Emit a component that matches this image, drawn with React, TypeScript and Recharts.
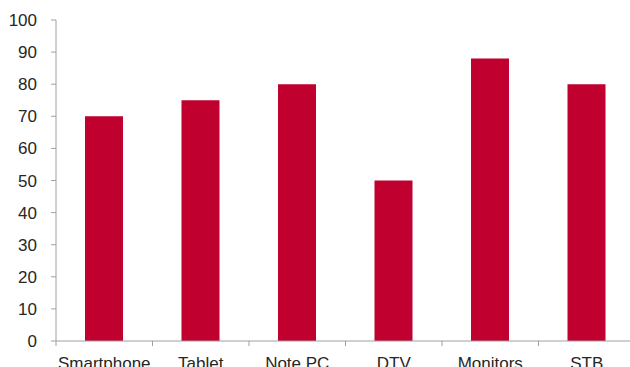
import { BarChart, Bar, XAxis, YAxis } from 'recharts';

const categories = ['Smartphone', 'Tablet', 'Note PC', 'DTV', 'Monitors', 'STB'];
const shares = [70, 75, 80, 50, 88, 80];
const yTicks = [0, 10, 20, 30, 40, 50, 60, 70, 80, 90, 100];

const data = categories.map((name, i) => ({ name, value: shares[i] }));

const CHART_W = 635;
const CHART_H = 367;
const Y_AXIS_W = 56;
const TICK_SIZE = 5;
const TICK_MARGIN = 11;
const AXIS_COLOR = '#a0a0a0';
const TEXT_COLOR = '#262626';

// category ticks sit on the boundaries between bars, label in the middle
function CategoryTick(props: any) {
  const { x, y, payload } = props;
  const step = (CHART_W - Y_AXIS_W) / categories.length;
  const axisY = y - TICK_SIZE - TICK_MARGIN;
  const left = x - step / 2;
  return (
    <g>
      <line x1={left} x2={left} y1={axisY} y2={axisY + TICK_SIZE} stroke={AXIS_COLOR} />
      <text
        x={x}
        y={y}
        dy="0.71em"
        textAnchor="middle"
        fill={TEXT_COLOR}
        fontSize={17}
        fontFamily="'Liberation Sans', Arial, sans-serif"
      >
        {payload.value}
      </text>
    </g>
  );
}

export default function App() {
  return (
    <div
      style={{
        position: 'fixed',
        left: 0,
        top: 0,
        width: 630,
        height: CHART_H,
        overflow: 'hidden',
        background: '#fff',
      }}
    >
      <BarChart
        width={CHART_W}
        height={CHART_H}
        data={data}
        margin={{ top: 20, right: 0, left: 0, bottom: 0 }}
        barSize={38}
      >
        <XAxis
          dataKey="name"
          height={26}
          stroke={AXIS_COLOR}
          tickLine={false}
          tickSize={TICK_SIZE}
          tickMargin={TICK_MARGIN}
          interval={0}
          tick={<CategoryTick />}
        />
        <YAxis
          width={Y_AXIS_W}
          domain={[0, 100]}
          ticks={yTicks}
          interval={0}
          stroke={AXIS_COLOR}
          tickSize={TICK_SIZE}
          tickMargin={14}
          tick={{
            fill: TEXT_COLOR,
            fontSize: 17,
            fontFamily: "'Liberation Sans', Arial, sans-serif",
          }}
        />
        <Bar dataKey="value" fill="#C0002F" isAnimationActive={false} />
      </BarChart>
    </div>
  );
}
